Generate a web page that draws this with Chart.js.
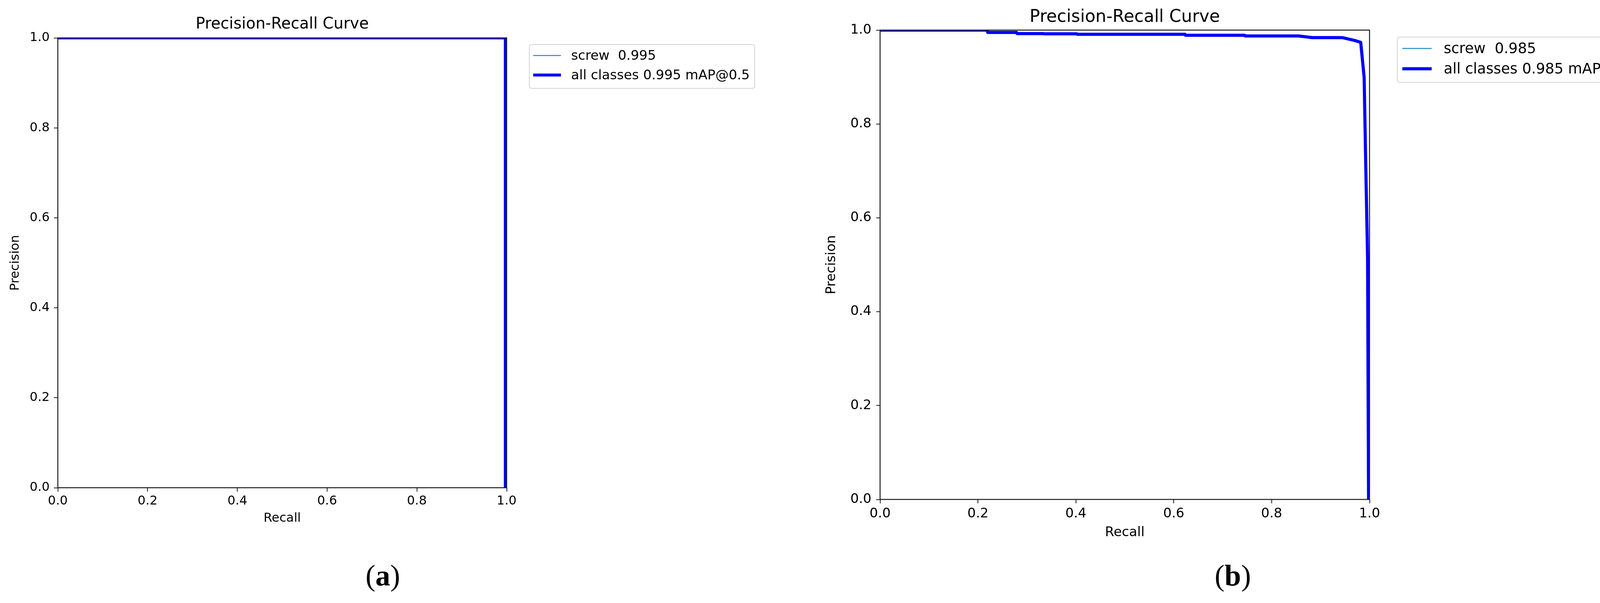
<!DOCTYPE html>
<html>
<head>
<meta charset="utf-8">
<script src="https://cdn.jsdelivr.net/npm/chart.js@4.4.1/dist/chart.umd.min.js"></script>
<style>
  html, body { margin: 0; padding: 0; background: #fff; }
  body { width: 4234px; height: 1543px; position: relative; overflow: hidden; }
  canvas { position: absolute; top: 0; }
  #chartA { left: 0; }
  #chartB { left: 2100px; }
  .caption { position: absolute; width: 200px; text-align: center; font-family: 'Liberation Serif', 'DejaVu Serif', serif; font-size: 76px; line-height: 76px; color: #000; }
</style>
</head>
<body>
<canvas id="chartA" width="2100" height="1400"></canvas>
<canvas id="chartB" width="2134" height="1430"></canvas>
<div class="caption" style="left:880px; top:1434px">(<b>a</b>)</div>
<div class="caption" style="left:3056px; top:1434px">(<b>b</b>)</div>
<script>
// (a): flat at 1.0, drops at the right edge
const recallA = [0, 0.997, 0.997];
const precisionA = [1, 1, 0];
const mapA = 0.995;

// (b)
const recallB = [0, 0.219, 0.220, 0.279, 0.280, 0.334, 0.335, 0.402, 0.403, 0.623, 0.624, 0.745, 0.746, 0.855, 0.883, 0.944, 0.969, 0.982, 0.989, 0.9925, 0.996, 0.998];
const precisionB = [1.000, 1.000, 0.995, 0.995, 0.9925, 0.9925, 0.992, 0.992, 0.991, 0.991, 0.989, 0.989, 0.9875, 0.9875, 0.984, 0.984, 0.978, 0.974, 0.899, 0.700, 0.515, 0.000];
const mapB = 0.985;

const className = 'screw';
const xTicks = [0, 0.2, 0.4, 0.6, 0.8, 1.0];
const yTicks = [0, 0.2, 0.4, 0.6, 0.8, 1.0];

Chart.defaults.font.family = "'DejaVu Sans', sans-serif";

const toPoints = (xs, ys) => xs.map((x, i) => ({ x: x, y: ys[i] }));

// matplotlib style box around the axes, drawn over the curves
const framePlugin = {
  id: 'frame',
  afterDatasetsDraw(chart) {
    const { ctx, chartArea: a } = chart;
    ctx.save();
    ctx.strokeStyle = '#1a1a1a';
    ctx.lineWidth = 2.5;
    ctx.strokeRect(a.left, a.top, a.right - a.left, a.bottom - a.top);
    ctx.restore();
  }
};

const boxLegend = {
  id: 'boxLegend',
  afterDraw(chart, args, opts) {
    const { ctx, chartArea: a } = chart;
    const x = a.right + opts.dx, y = a.top + opts.dy;
    ctx.save();
    ctx.fillStyle = 'rgba(255,255,255,0.8)';
    ctx.strokeStyle = '#d4d4d4';
    ctx.lineWidth = 2;
    ctx.beginPath();
    ctx.roundRect(x, y, opts.w, opts.h, 6);
    ctx.fill();
    ctx.stroke();
    ctx.font = opts.fontSize + "px 'DejaVu Sans'";
    ctx.textBaseline = 'middle';
    chart.data.datasets.forEach((ds, i) => {
      const ry = y + opts.rows[i];
      ctx.strokeStyle = ds.borderColor;
      ctx.lineWidth = ds.borderWidth;
      ctx.beginPath();
      ctx.moveTo(x + opts.lineX[0], ry);
      ctx.lineTo(x + opts.lineX[1], ry);
      ctx.stroke();
      ctx.fillStyle = '#000';
      ctx.fillText(ds.label, x + opts.textX, ry + 2);
    });
    ctx.restore();
  }
};

const axis = (ticksArr, title, fs, pad, titlePad) => ({
  type: 'linear',
  min: 0,
  max: 1,
  afterBuildTicks: ax => { ax.ticks = ticksArr.map(v => ({ value: v })); },
  ticks: { callback: v => v.toFixed(1), color: '#000', font: { size: fs }, padding: pad, maxRotation: 0, autoSkip: false },
  grid: { display: true, drawOnChartArea: false, drawTicks: true, tickLength: 10, tickWidth: 2, tickColor: '#1a1a1a' },
  border: { display: false },
  title: { display: true, text: title, color: '#000', font: { size: fs }, padding: titlePad }
});

function makeChart(id, recall, precision, mAP, cfg) {
  const pts = toPoints(recall, precision);
  const chart = new Chart(document.getElementById(id), {
    type: 'scatter',
    data: {
      datasets: [
        { label: `${className}  ${mAP.toFixed(3)}`, data: pts, borderColor: '#1f87c9', borderWidth: cfg.thin,
          showLine: true, pointRadius: 0, tension: 0, clip: 0, order: 1 },
        { label: `all classes ${mAP.toFixed(3)} mAP@0.5`, data: pts, borderColor: '#0000ff', borderWidth: cfg.thick,
          showLine: true, pointRadius: 0, tension: 0, clip: 0, order: 0, borderJoinStyle: 'round' }
      ]
    },
    options: {
      responsive: false,
      animation: false,
      devicePixelRatio: 1,
      layout: { padding: { left: 0, top: 0, right: 0, bottom: 0 } },
      plugins: {
        legend: { display: false },
        tooltip: { enabled: false },
        title: { display: true, text: 'Precision-Recall Curve', fullSize: false, color: '#000',
                 font: { size: cfg.titleSize, weight: 'normal' }, padding: { top: 0, bottom: cfg.titlePad } },
        boxLegend: cfg.legend
      },
      scales: {
        x: axis(xTicks, 'Recall', cfg.fs, cfg.xPad, { top: cfg.xTitlePad, bottom: 0 }),
        y: axis(yTicks, 'Precision', cfg.fs, cfg.yPad, { top: 0, bottom: cfg.yTitlePad })
      }
    },
    plugins: [framePlugin, boxLegend]
  });
  // nudge the padding so the plot box lands where it sits in the figure
  for (let k = 0; k < 2; k++) {
    const a = chart.chartArea, p = chart.options.layout.padding, t = cfg.area;
    chart.options.layout.padding = {
      left: p.left + (t.left - a.left),
      top: p.top + (t.top - a.top),
      right: p.right + (a.right - t.right),
      bottom: p.bottom + (a.bottom - t.bottom)
    };
    chart.update('none');
  }
  return chart;
}

makeChart('chartA', recallA, precisionA, mapA, {
  area: { left: 148, top: 97, right: 1297, bottom: 1248 },
  thin: 2.5, thick: 7.5, fs: 32, titleSize: 40, titlePad: 10,
  xPad: 5, yPad: 11, xTitlePad: 1, yTitlePad: 6,
  legend: { dx: 58, dy: 17, w: 577, h: 112, rows: [28, 78], lineX: [10, 81], textX: 107, fontSize: 34 }
});

makeChart('chartB', recallB, precisionB, mapB, {
  area: { left: 153, top: 77, right: 1406, bottom: 1278 },
  thin: 2.7, thick: 8, fs: 34, titleSize: 44, titlePad: 6,
  xPad: 7, yPad: 12, xTitlePad: 0, yTitlePad: 15,
  legend: { dx: 71, dy: 18, w: 632, h: 116, rows: [29, 81], lineX: [13, 88], textX: 119, fontSize: 37 }
});
</script>
</body>
</html>
